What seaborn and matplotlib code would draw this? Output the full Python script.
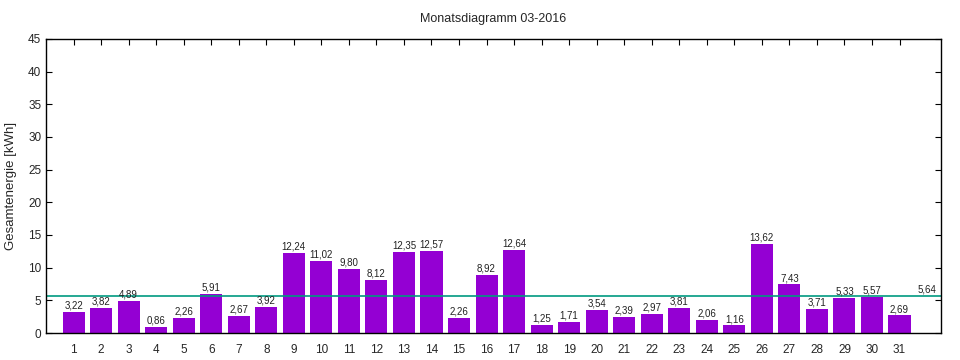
import numpy as np
import pandas as pd
import seaborn as sns
import matplotlib
matplotlib.use("Agg")
import matplotlib.pyplot as plt

# daily energy, March 2016
days = list(range(1, 32))
energy = [3.22, 3.82, 4.89, 0.86, 2.26, 5.91, 2.67, 3.92, 12.24, 11.02,
          9.80, 8.12, 12.35, 12.57, 2.26, 8.92, 12.64, 1.25, 1.71, 3.54,
          2.39, 2.97, 3.81, 2.06, 1.16, 13.62, 7.43, 3.71, 5.33, 5.57, 2.69]
avg = 5.64
avg_pos = 32

df = pd.DataFrame({'Tag': days, 'Energie': energy})

sns.set_style("ticks")
plt.rcParams['font.family'] = ['Liberation Sans', 'DejaVu Sans']

fig = plt.figure(figsize=(9.6, 3.6), dpi=100)
ax = fig.add_axes([0.048, 0.075, 0.932, 0.817])

sns.barplot(data=df, x='Tag', y='Energie', native_scale=True, color='#9400D3',
            saturation=1, width=0.8, ax=ax, linewidth=0)

def fmt(v):
    return f"{v:.2f}".replace('.', ',')

for c in ax.containers:
    ax.bar_label(c, labels=[fmt(v) for v in energy], fontsize=7, color='#222222', padding=1)

ax.axhline(avg, color='#009980', lw=1.2)
ax.text(avg_pos, avg + 0.3, fmt(avg), ha='center', va='bottom', fontsize=7, color='#222222')

ax.set_xlim(0, 32.5)
ax.set_ylim(0, 45)
ax.set_xticks(days)
ax.set_yticks(np.arange(0, 46, 5))
ax.tick_params(direction='in', top=True, right=True, length=4, labelsize=8.5, color='black')
ax.tick_params(axis='x', pad=8)
for s in ax.spines.values():
    s.set_color('black')
    s.set_linewidth(1)
ax.set_xlabel('')
ax.set_ylabel('Gesamtenergie [kWh]', fontsize=9.5, labelpad=8)
ax.set_title('Monatsdiagramm 03-2016', fontsize=9, pad=12)

fig.savefig('out.png', dpi=100)
